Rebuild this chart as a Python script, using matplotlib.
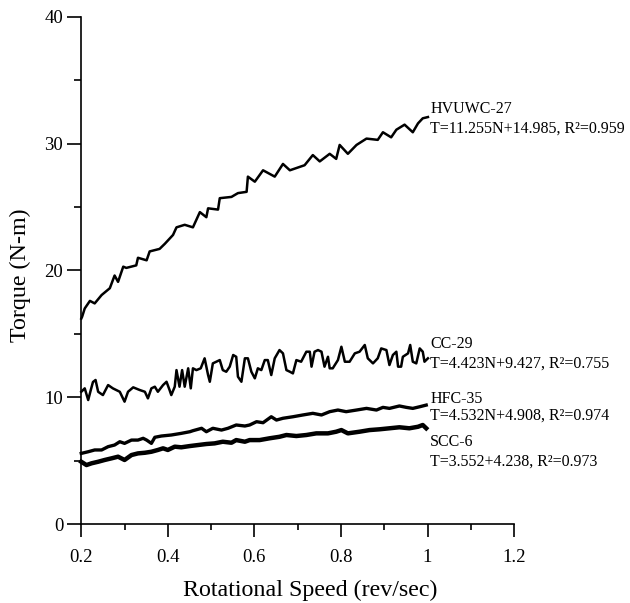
import numpy as np
import matplotlib.pyplot as plt
from matplotlib.ticker import FixedLocator, FixedFormatter

plt.rcParams['font.family'] = ['Liberation Serif', 'DejaVu Serif']

# HVUWC-27
hv_x = [0.200, 0.202, 0.208, 0.220, 0.231, 0.247, 0.266, 0.277, 0.285, 0.297,
        0.304, 0.327, 0.331, 0.351, 0.358, 0.381, 0.393, 0.412, 0.420, 0.439,
        0.458, 0.474, 0.489, 0.493, 0.516, 0.520, 0.547, 0.562, 0.582, 0.585,
        0.601, 0.620, 0.647, 0.666, 0.682, 0.716, 0.735, 0.751, 0.774, 0.789,
        0.797, 0.816, 0.836, 0.859, 0.885, 0.897, 0.916, 0.928, 0.947, 0.966,
        0.978, 0.989, 1.001]
hv_y = [16.2, 16.35, 17.0, 17.6, 17.4, 18.06, 18.6, 19.6, 19.1, 20.3,
        20.2, 20.4, 21.0, 20.8, 21.5, 21.7, 22.1, 22.8, 23.4, 23.6,
        23.4, 24.6, 24.2, 24.9, 24.8, 25.7, 25.8, 26.1, 26.2, 27.4,
        27.0, 27.9, 27.4, 28.4, 27.9, 28.3, 29.1, 28.6, 29.2, 28.8,
        29.9, 29.2, 29.9, 30.4, 30.3, 30.9, 30.5, 31.1, 31.5, 30.9,
        31.6, 32.0, 32.1]

# CC-29
cc_x = [0.200, 0.208, 0.216, 0.222, 0.227, 0.233, 0.239, 0.250, 0.262, 0.273,
        0.289, 0.300, 0.308, 0.320, 0.335, 0.347, 0.354, 0.362, 0.370, 0.377,
        0.389, 0.397, 0.404, 0.408, 0.416, 0.420, 0.427, 0.433, 0.439, 0.447,
        0.453, 0.458, 0.466, 0.476, 0.485, 0.493, 0.497, 0.504, 0.512, 0.520,
        0.527, 0.535, 0.543, 0.551, 0.558, 0.562, 0.570, 0.578, 0.585, 0.593,
        0.601, 0.608, 0.616, 0.624, 0.631, 0.639, 0.647, 0.658, 0.666, 0.674,
        0.682, 0.689, 0.697, 0.708, 0.720, 0.728, 0.732, 0.739, 0.747, 0.755,
        0.762, 0.770, 0.774, 0.781, 0.793, 0.801, 0.809, 0.820, 0.832, 0.843,
        0.855, 0.862, 0.874, 0.885, 0.893, 0.905, 0.912, 0.920, 0.928, 0.932,
        0.939, 0.943, 0.955, 0.960, 0.966, 0.974, 0.982, 0.989, 0.993, 1.001]
cc_y = [10.43, 10.7, 9.78, 10.57, 11.2, 11.36, 10.43, 10.17, 10.96, 10.7,
        10.43, 9.65, 10.43, 10.78, 10.57, 10.43, 9.91, 10.7, 10.83, 10.43,
        10.96, 11.22, 10.57, 10.17, 10.83, 12.14, 10.83, 12.14, 10.83, 12.28,
        10.7, 12.28, 12.14, 12.28, 13.07, 11.75, 11.22, 12.67, 12.80, 12.93,
        12.14, 12.01, 12.41, 13.33, 13.19, 11.62, 11.22, 13.07, 13.07, 12.01,
        11.49, 12.28, 12.14, 12.93, 12.93, 11.75, 13.07, 13.72, 13.46, 12.14,
        12.01, 11.88, 12.93, 12.80, 13.59, 13.59, 12.41, 13.59, 13.72, 13.59,
        12.41, 13.19, 12.28, 12.28, 12.93, 13.98, 12.80, 12.80, 13.46, 13.59,
        14.12, 13.07, 12.67, 13.07, 13.85, 13.72, 12.54, 13.33, 13.59, 12.41,
        12.41, 13.19, 13.46, 14.12, 12.80, 12.67, 13.85, 13.59, 12.80, 13.07]

# HFC-35
hf_x = [0.200, 0.216, 0.231, 0.247, 0.262, 0.277, 0.289, 0.300, 0.316, 0.331,
        0.343, 0.351, 0.362, 0.370, 0.385, 0.408, 0.431, 0.451, 0.458, 0.478,
        0.489, 0.504, 0.524, 0.539, 0.558, 0.578, 0.589, 0.605, 0.620, 0.639,
        0.651, 0.666, 0.689, 0.712, 0.735, 0.755, 0.774, 0.793, 0.812, 0.836,
        0.859, 0.882, 0.897, 0.912, 0.935, 0.951, 0.966, 0.982, 0.997]
hf_y = [5.57, 5.70, 5.84, 5.84, 6.10, 6.23, 6.49, 6.36, 6.62, 6.62,
        6.76, 6.62, 6.36, 6.84, 6.94, 7.02, 7.15, 7.28, 7.36, 7.55,
        7.28, 7.55, 7.41, 7.55, 7.81, 7.73, 7.81, 8.07, 7.99, 8.46,
        8.20, 8.34, 8.46, 8.60, 8.73, 8.60, 8.86, 8.99, 8.86, 8.99,
        9.12, 8.99, 9.20, 9.12, 9.31, 9.20, 9.12, 9.25, 9.38]

# SCC-6
sc_x = [0.200, 0.212, 0.224, 0.239, 0.254, 0.270, 0.285, 0.300, 0.316, 0.331,
        0.347, 0.362, 0.377, 0.389, 0.400, 0.416, 0.431, 0.451, 0.470, 0.489,
        0.508, 0.527, 0.547, 0.558, 0.578, 0.589, 0.612, 0.635, 0.658, 0.674,
        0.697, 0.720, 0.743, 0.770, 0.789, 0.801, 0.816, 0.843, 0.866, 0.889,
        0.912, 0.935, 0.958, 0.978, 0.989, 0.997]
sc_y = [4.91, 4.65, 4.79, 4.91, 5.05, 5.18, 5.31, 5.05, 5.44, 5.57,
        5.62, 5.70, 5.84, 5.97, 5.84, 6.10, 6.05, 6.15, 6.23, 6.31,
        6.36, 6.49, 6.41, 6.62, 6.49, 6.62, 6.62, 6.76, 6.88, 7.02,
        6.94, 7.02, 7.15, 7.15, 7.28, 7.41, 7.15, 7.28, 7.41, 7.47,
        7.55, 7.63, 7.55, 7.67, 7.81, 7.55]

names = ['HVUWC-27', 'CC-29', 'HFC-35', 'SCC-6']
equations = ['T=11.255N+14.985, R²=0.959',
             'T=4.423N+9.427, R²=0.755',
             'T=4.532N+4.908, R²=0.974',
             'T=3.552+4.238, R²=0.973']
name_y = [32.39, 13.88, 9.54, 6.15]
eq_y = [30.86, 12.30, 8.20, 4.57]

x_ticks = [0.2, 0.4, 0.6, 0.8, 1.0, 1.2]
x_tick_labels = ['0.2', '0.4', '0.6', '0.8', '1', '1.2']
y_ticks = [0, 10, 20, 30, 40]

fig = plt.figure(figsize=(6.3, 6.03), dpi=100)
ax = fig.add_axes([0.129, 0.131, 0.687, 0.841])

ax.plot(hv_x, hv_y, color='black', lw=1.8, clip_on=False)
ax.plot(cc_x, cc_y, color='black', lw=1.8, clip_on=False)
ax.plot(hf_x, hf_y, color='black', lw=2.4, clip_on=False)
ax.plot(sc_x, sc_y, color='black', lw=3.2, clip_on=False)

for name, eq, ny, ey in zip(names, equations, name_y, eq_y):
    ax.text(1.006, ny, name, fontsize=11.5, va='baseline', ha='left', clip_on=False)
    ax.text(1.006, ey, eq, fontsize=11.5, va='baseline', ha='left', clip_on=False)

ax.set_xlim(0.2, 1.2)
ax.set_ylim(0, 40)
ax.xaxis.set_major_locator(FixedLocator(x_ticks))
ax.xaxis.set_major_formatter(FixedFormatter(x_tick_labels))
ax.xaxis.set_minor_locator(FixedLocator([0.3, 0.5, 0.7, 0.9, 1.1]))
ax.yaxis.set_major_locator(FixedLocator(y_ticks))
ax.yaxis.set_minor_locator(FixedLocator([5, 15, 25, 35]))

ax.spines['top'].set_visible(False)
ax.spines['right'].set_visible(False)
ax.spines['left'].set_linewidth(1.2)
ax.spines['bottom'].set_linewidth(1.2)
ax.tick_params(axis='x', which='major', direction='out', length=9, width=1.2, pad=9, labelsize=13.5)
ax.tick_params(axis='x', which='minor', direction='out', length=4.5, width=1.2)
ax.tick_params(axis='y', which='major', direction='out', length=10, width=1.2, pad=3, labelsize=13.5)
ax.tick_params(axis='y', which='minor', direction='out', length=5, width=1.2)

ax.set_xlabel('Rotational Speed (rev/sec)', fontsize=17.3, labelpad=10)
ax.set_ylabel('Torque (N-m)', fontsize=17.3, labelpad=10)
ax.xaxis.label.set_x(0.528)
ax.yaxis.label.set_y(0.49)

fig.savefig('out.png', dpi=100)
